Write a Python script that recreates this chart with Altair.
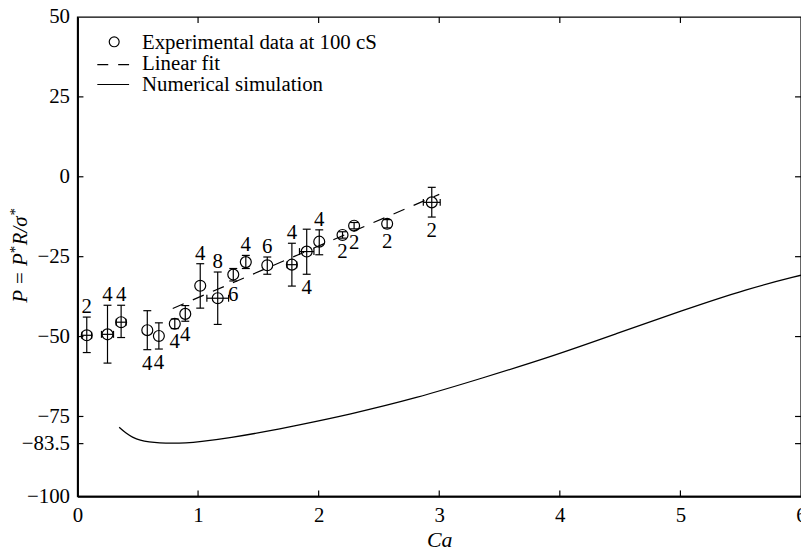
import altair as alt
import pandas as pd

# ---- experimental data (Ca, P, error bars, number of runs) ----
ca = [0.077, 0.249, 0.362, 0.579, 0.675, 0.807, 0.894, 1.018, 1.163, 1.292,
      1.396, 1.574, 1.778, 1.901, 2.005, 2.198, 2.294, 2.568, 2.938]
p = [-49.6, -49.3, -45.5, -48.0, -49.8, -46.0, -42.9, -34.1, -38.0, -30.6,
     -26.7, -27.7, -27.5, -23.4, -20.3, -18.2, -15.3, -14.7, -8.0]
p_hi = [-43.9, -40.2, -40.2, -41.9, -45.7, -44.5, -40.3, -27.2, -29.8, -28.7,
        -24.6, -25.1, -20.8, -16.4, -16.6, -17.2, -14.3, -13.4, -3.3]
p_lo = [-55.0, -58.3, -50.3, -54.1, -53.9, -47.5, -45.2, -41.1, -46.2, -32.6,
        -28.7, -30.5, -34.2, -30.5, -24.4, -19.2, -16.3, -16.0, -12.6]
ca_err = [0.04, 0.05, 0.04, 0, 0, 0, 0, 0, 0.09, 0,
          0, 0, 0.04, 0.06, 0, 0, 0, 0, 0.07]
n_runs = ["2", "4", "4", "4", "4", "4", "4", "4", "8", "6",
          "4", "6", "4", "4", "4", "2", "2", "2", "2"]
label_side = ["above", "above", "above", "below", "below", "below", "below", "above", "above", "below",
              "above", "above", "above", "below", "above", "below", "below", "below", "below"]

# ---- linear fit ----
fit_ca = [0.79, 3.0]
fit_p = [-41.2, -5.5]

# ---- numerical simulation ----
sim_ca = [0.346, 0.40, 0.455, 0.52, 0.593, 0.68, 0.785, 0.90, 1.004, 1.278,
          1.553, 1.827, 2.239, 2.815, 3.364, 3.912, 4.461, 5.010, 5.558, 6.0]
sim_p = [-78.4, -80.2, -81.5, -82.5, -83.0, -83.3, -83.4, -83.3, -83.0, -81.6,
         -79.8, -77.7, -74.5, -69.2, -62.9, -56.5, -49.2, -41.9, -35.0, -30.8]

# ---- axes ----
x_ticks = [0, 1, 2, 3, 4, 5, 6]
y_ticks = [50, 25, 0, -25, -50, -75, -83.5, -100]
x_inner = [1, 2, 3, 4, 5]
y_inner = [25, 0, -25, -50, -75, -83.5]

legend_labels = ["Experimental data at 100 cS", "Linear fit", "Numerical simulation"]
y_title_parts = ["P = P", "*", "R/σ", "*"]

W, H = 729, 483
FONT = "Liberation Serif"

pts = pd.DataFrame({"ca": ca, "p": p, "hi": p_hi, "lo": p_lo, "xe": ca_err,
                    "n": n_runs, "side": label_side})
pts["xlo"] = pts["ca"] - pts["xe"]
pts["xhi"] = pts["ca"] + pts["xe"]
xpts = pts[pts["xe"] > 0]
fit = pd.DataFrame({"ca": fit_ca, "p": fit_p})
sim = pd.DataFrame({"ca": sim_ca, "p": sim_p})
yt = pd.DataFrame({"v": y_inner})
xt = pd.DataFrame({"v": x_inner})

xs = alt.Scale(domain=[0, 6], nice=False, zero=False)
ys = alt.Scale(domain=[-100, 50], nice=False, zero=False)
xaxis = alt.Axis(values=x_ticks, title="Ca", grid=False, ticks=False, labelPadding=8,
                 labelFlush=False, domainColor="black", domainWidth=2, labelFont=FONT,
                 labelFontSize=21, labelColor="black", titleFont=FONT, titleFontSize=22,
                 titleFontStyle="italic", titleFontWeight="normal", titleColor="black",
                 titleBaseline="alphabetic", titleY=51, titleX=W / 2, titleAlign="center",
                 labelOverlap=False, labelExpr="format(datum.value, 'd')")
yaxis = alt.Axis(values=y_ticks, title="", grid=False, ticks=False, labelPadding=8,
                 labelFlush=False, domainColor="black", domainWidth=2, labelFont=FONT,
                 labelFontSize=21, labelColor="black", labelOverlap=False,
                 labelExpr="datum.value == -83.5 ? '\u221283.5' : format(datum.value, 'd')")


def X(f):
    return alt.X(f, type="quantitative", scale=xs, axis=xaxis)


def Y(f):
    return alt.Y(f, type="quantitative", scale=ys, axis=yaxis)


base_pts = alt.Chart(pts)

curve = alt.Chart(sim).mark_line(color="black", strokeWidth=1.3, interpolate="basis").encode(
    x=X("ca"), y=Y("p"))
fitline = alt.Chart(fit).mark_line(color="black", strokeWidth=1.2, strokeDash=[12, 10]).encode(
    x=X("ca"), y=Y("p"))

ybars = base_pts.mark_rule(color="black", strokeWidth=1.2).encode(x=X("ca"), y=Y("lo"), y2="hi")
ycap_hi = base_pts.mark_rule(color="black", strokeWidth=1.2, xOffset=-4, x2Offset=4).encode(
    x=X("ca"), x2="ca", y=Y("hi"))
ycap_lo = base_pts.mark_rule(color="black", strokeWidth=1.2, xOffset=-4, x2Offset=4).encode(
    x=X("ca"), x2="ca", y=Y("lo"))

base_x = alt.Chart(xpts)
xbars = base_x.mark_rule(color="black", strokeWidth=1.2).encode(x=X("xlo"), x2="xhi", y=Y("p"))
xcap_l = base_x.mark_rule(color="black", strokeWidth=1.2, yOffset=-3.5, y2Offset=3.5).encode(
    x=X("xlo"), y=Y("p"), y2="p")
xcap_r = base_x.mark_rule(color="black", strokeWidth=1.2, yOffset=-3.5, y2Offset=3.5).encode(
    x=X("xhi"), y=Y("p"), y2="p")

points = base_pts.mark_point(shape="circle", filled=False, size=121, color="black",
                             strokeWidth=1.2, opacity=1).encode(x=X("ca"), y=Y("p"))

lab_above = base_pts.transform_filter(alt.datum.side == "above").mark_text(
    font=FONT, fontSize=21, color="black", baseline="alphabetic", dy=-4).encode(
    x=X("ca"), y=Y("hi"), text="n:N")
lab_below = base_pts.transform_filter(alt.datum.side == "below").mark_text(
    font=FONT, fontSize=21, color="black", baseline="alphabetic", dy=20).encode(
    x=X("ca"), y=Y("lo"), text="n:N")

# inward ticks on all four sides
tick_l = alt.Chart(yt).mark_rule(color="black", strokeWidth=1.2).encode(
    y=Y("v"), x=alt.value(0), x2=alt.value(6))
tick_r = alt.Chart(yt).mark_rule(color="black", strokeWidth=1.2).encode(
    y=Y("v"), x=alt.value(W - 6), x2=alt.value(W))
tick_b = alt.Chart(xt).mark_rule(color="black", strokeWidth=1.2).encode(
    x=X("v"), y=alt.value(H - 6), y2=alt.value(H))
tick_t = alt.Chart(xt).mark_rule(color="black", strokeWidth=1.2).encode(
    x=X("v"), y=alt.value(0), y2=alt.value(6))

# legend (inside plot, upper left)
leg_df = pd.DataFrame({"t": [legend_labels[0]]})
leg_sym = alt.Chart(leg_df).mark_point(shape="circle", filled=False, size=100, color="black",
                                       strokeWidth=1.2, opacity=1).encode(
    x=alt.value(37), y=alt.value(25))
leg_dash = alt.Chart(leg_df).mark_rule(color="black", strokeWidth=1.2, strokeDash=[11, 10]).encode(
    x=alt.value(20), x2=alt.value(52), y=alt.value(48))
leg_solid = alt.Chart(leg_df).mark_rule(color="black", strokeWidth=1.2).encode(
    x=alt.value(20), x2=alt.value(52), y=alt.value(68))
leg_t1 = alt.Chart(pd.DataFrame({"t": [legend_labels[0]]})).mark_text(
    font=FONT, fontSize=21, color="black", align="left", baseline="alphabetic").encode(
    x=alt.value(65), y=alt.value(32), text="t:N")
leg_t2 = alt.Chart(pd.DataFrame({"t": [legend_labels[1]]})).mark_text(
    font=FONT, fontSize=21, color="black", align="left", baseline="alphabetic").encode(
    x=alt.value(65), y=alt.value(53), text="t:N")
leg_t3 = alt.Chart(pd.DataFrame({"t": [legend_labels[2]]})).mark_text(
    font=FONT, fontSize=21, color="black", align="left", baseline="alphabetic").encode(
    x=alt.value(65), y=alt.value(75), text="t:N")


# y-axis title composed of pieces (superscript asterisks), rotated
def title_piece(txt, xpos, ypos, size, style):
    return alt.Chart(pd.DataFrame({"t": [txt]})).mark_text(
        font=FONT, fontSize=size, fontStyle=style, color="black", align="left",
        baseline="alphabetic", angle=270).encode(
        x=alt.value(xpos), y=alt.value(ypos), text="t:N")


yt1 = title_piece(y_title_parts[0], -51, 288, 21, "italic")
yt2 = title_piece(y_title_parts[1], -58, 238, 15, "normal")
yt3 = title_piece(y_title_parts[2], -51, 230, 21, "italic")
yt4 = title_piece(y_title_parts[3], -58, 200, 15, "normal")

chart = alt.layer(
    curve, fitline, ybars, ycap_hi, ycap_lo, xbars, xcap_l, xcap_r, points,
    lab_above, lab_below, tick_l, tick_r, tick_b, tick_t,
    leg_sym, leg_dash, leg_solid, leg_t1, leg_t2, leg_t3,
    yt1, yt2, yt3, yt4,
).properties(
    width=W, height=H,
    autosize=alt.AutoSizeParams(type="none"),
    padding={"left": 70, "top": 7, "right": 0, "bottom": 55},
    background="white",
).configure_view(
    stroke="black", strokeWidth=1.4
)

chart.save("out.html", embed_options={"renderer": "svg", "actions": False})
